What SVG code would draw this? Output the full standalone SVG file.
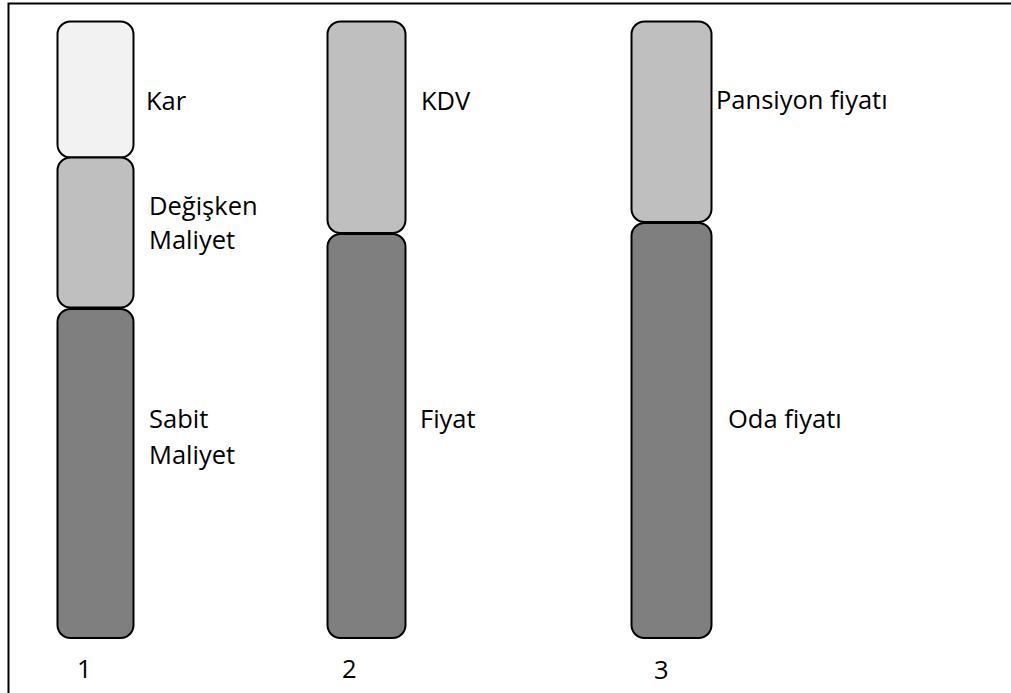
<svg xmlns="http://www.w3.org/2000/svg" width="1011" height="693" viewBox="0 0 1011 693">
  <style>
    .seg { stroke: #000; stroke-width: 2; }
    .light { fill: #f2f2f2; }
    .mid { fill: #bfbfbf; }
    .dark { fill: #7f7f7f; }
    .lbl { font-family: "Open Sans", "Noto Sans", sans-serif; font-size: 25.5px; fill: #000; }
    .frame { fill: none; stroke: #000; stroke-width: 2; }
  </style>
  <rect width="1011" height="693" fill="#fff"/>
  <!-- outer frame: top and left edges only -->
  <path class="frame" d="M8.5,700 V3.5 H1015"/>

  <g id="column-1">
    <g id="kar">
      <rect class="seg light" x="57.5" y="21.5" width="76" height="136" rx="13"/>
      <text class="lbl" x="146" y="110">Kar</text>
    </g>
    <g id="degisken-maliyet">
      <rect class="seg mid" x="57.5" y="157.5" width="76" height="150" rx="13"/>
      <text class="lbl" x="149" y="215">Değişken</text>
      <text class="lbl" x="149" y="249">Maliyet</text>
    </g>
    <g id="sabit-maliyet">
      <rect class="seg dark" x="57.5" y="309" width="76" height="329" rx="13"/>
      <text class="lbl" x="149" y="428">Sabit</text>
      <text class="lbl" x="149" y="464">Maliyet</text>
    </g>
    <text class="lbl" x="77" y="678">1</text>
  </g>

  <g id="column-2">
    <g id="kdv">
      <rect class="seg mid" x="327.5" y="21.5" width="78" height="211.5" rx="13"/>
      <text class="lbl" x="421" y="110">KDV</text>
    </g>
    <g id="fiyat">
      <rect class="seg dark" x="327.5" y="234" width="78" height="404" rx="13"/>
      <text class="lbl" x="420" y="428">Fiyat</text>
    </g>
    <text class="lbl" x="342" y="678">2</text>
  </g>

  <g id="column-3">
    <g id="pansiyon-fiyati">
      <rect class="seg mid" x="631.5" y="21.5" width="80" height="200.5" rx="13"/>
      <text class="lbl" x="716" y="109">Pansiyon fiyatı</text>
    </g>
    <g id="oda-fiyati">
      <rect class="seg dark" x="631.5" y="223" width="80" height="415" rx="13"/>
      <text class="lbl" x="728" y="428">Oda fiyatı</text>
    </g>
    <text class="lbl" x="654" y="679">3</text>
  </g>

  <g id="connectors"/>
</svg>
